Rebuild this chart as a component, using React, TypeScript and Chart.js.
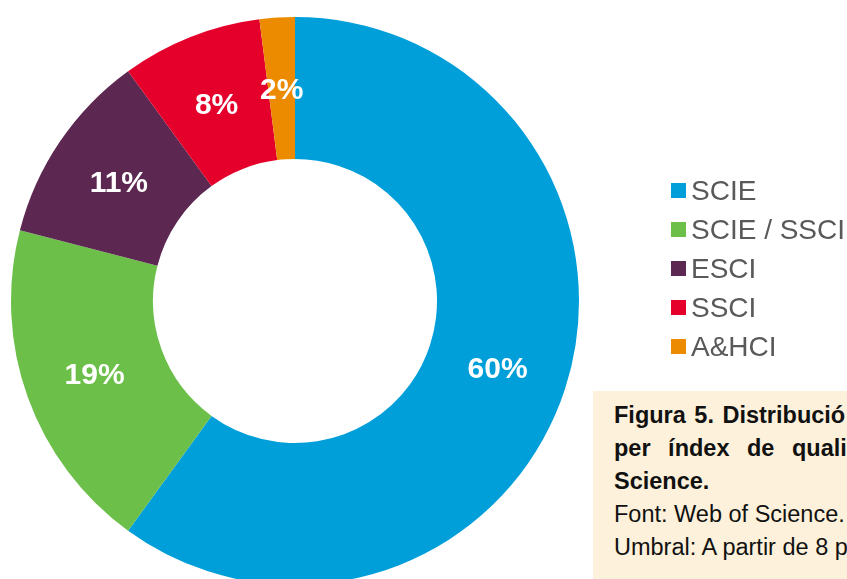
import React, { useEffect, useRef } from "react";
import { Chart, registerables } from "chart.js";

Chart.register(...registerables);

const categories = ["SCIE", "SCIE / SSCI", "ESCI", "SSCI", "A&HCI"];
const shares = [60, 19, 11, 8, 2];
const colors = ["#009FDA", "#6CC04A", "#5C2751", "#E4002B", "#EC8B00"];
const captionBold = ["Figura 5. Distribució", "per índex de quali", "Science."];
const captionNormal = ["Font: Web of Science.", "Umbral: A partir de 8 p"];

const FONT = "'Liberation Sans', Arial, Helvetica, sans-serif";

const sliceLabels = {
  id: "sliceLabels",
  afterDatasetsDraw(chart: any) {
    const { ctx } = chart;
    const meta = chart.getDatasetMeta(0);
    ctx.save();
    ctx.font = `bold 30px ${FONT}`;
    ctx.fillStyle = "#ffffff";
    ctx.textAlign = "center";
    ctx.textBaseline = "alphabetic";
    meta.data.forEach((arc: any, i: number) => {
      const p = arc.tooltipPosition();
      ctx.fillText(`${shares[i]}%`, p.x, p.y + 10.7);
    });
    ctx.restore();
  },
};

export default function App() {
  const ref = useRef<HTMLCanvasElement | null>(null);

  useEffect(() => {
    if (!ref.current) return;
    const chart = new Chart(ref.current, {
      type: "doughnut",
      data: {
        labels: categories,
        datasets: [
          {
            data: shares,
            backgroundColor: colors,
            borderWidth: 0,
          },
        ],
      },
      options: {
        responsive: false,
        maintainAspectRatio: false,
        animation: false,
        cutout: "50%",
        layout: { padding: { left: 11, top: 17, right: 268, bottom: 15 } },
        plugins: {
          legend: { display: false },
          tooltip: { enabled: false },
        },
      },
      plugins: [sliceLabels],
    });
    return () => chart.destroy();
  }, []);

  return (
    <div
      style={{
        position: "absolute",
        left: 0,
        top: 0,
        width: 847,
        height: 579,
        overflow: "hidden",
        background: "#ffffff",
        fontFamily: FONT,
      }}
    >
      <canvas
        ref={ref}
        width={847}
        height={600}
        style={{ position: "absolute", left: 0, top: 0, display: "block" }}
      />
      <div style={{ position: "absolute", left: 671, top: 171 }}>
        {categories.map((c, i) => (
          <div
            key={c}
            style={{ display: "flex", alignItems: "center", height: 39, whiteSpace: "nowrap" }}
          >
            <div style={{ width: 15, height: 15, background: colors[i], marginRight: 5 }} />
            <span style={{ fontSize: 28, color: "#595959" }}>{c}</span>
          </div>
        ))}
      </div>
      <div
        style={{
          position: "absolute",
          left: 593,
          top: 391,
          width: 300,
          height: 200,
          background: "#FDF1DB",
          paddingTop: 8,
          paddingLeft: 21,
          boxSizing: "border-box",
          color: "#111111",
          fontSize: 23.5,
          lineHeight: "33px",
          whiteSpace: "nowrap",
        }}
      >
        {captionBold.map((t, i) => (
          <div
            key={t}
            style={{ fontWeight: "bold", wordSpacing: i === 1 ? 11 : i === 0 ? 2 : 0 }}
          >
            {t}
          </div>
        ))}
        {captionNormal.map((t) => (
          <div key={t}>{t}</div>
        ))}
      </div>
    </div>
  );
}
